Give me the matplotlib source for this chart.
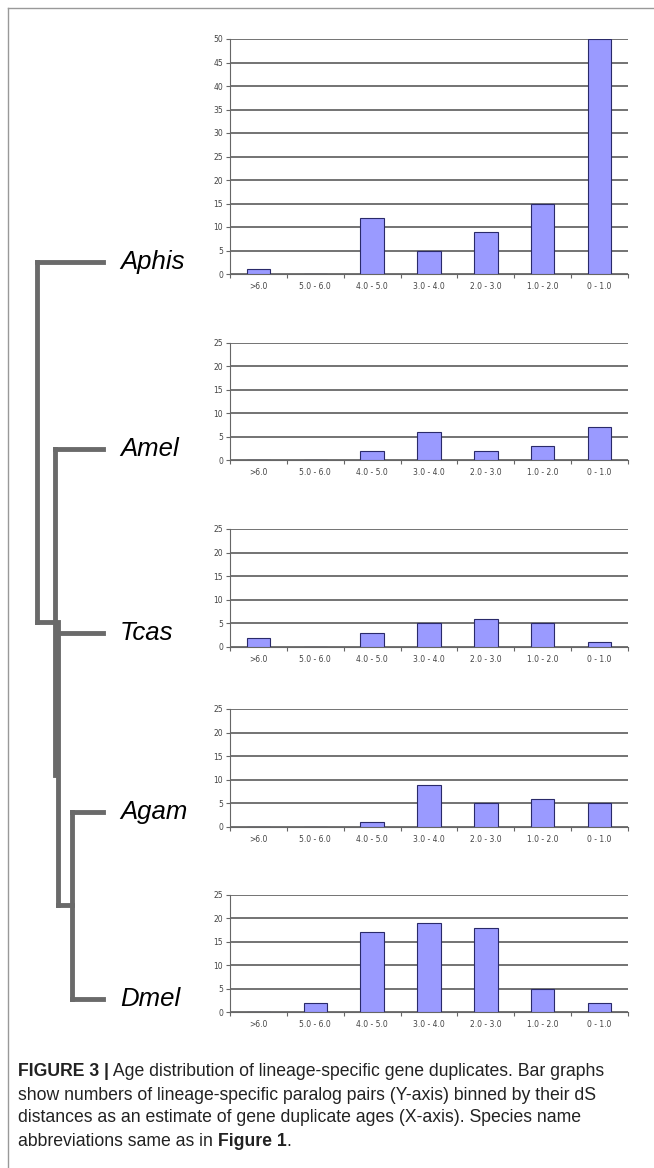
import numpy as np
import matplotlib
matplotlib.use("Agg")
from matplotlib import pyplot as plt

# Data
bins = [">6.0", "5.0 - 6.0", "4.0 - 5.0", "3.0 - 4.0", "2.0 - 3.0", "1.0 - 2.0", "0 - 1.0"]
species = ["Aphis", "Amel", "Tcas", "Agam", "Dmel"]
aphis = [1, 0, 12, 5, 9, 15, 50]
amel = [0, 0, 2, 6, 2, 3, 7]
tcas = [2, 0, 3, 5, 6, 5, 1]
agam = [0, 0, 1, 9, 5, 6, 5]
dmel = [0, 2, 17, 19, 18, 5, 2]
counts = [aphis, amel, tcas, agam, dmel]
ymax = [50, 25, 25, 25, 25]

W, H = 654, 1168
fig = plt.figure(figsize=(W / 100, H / 100), dpi=100)

# overlay in pixel coordinates for the tree, frame and caption
bg = fig.add_axes([0, 0, 1, 1])
bg.set_xlim(0, W)
bg.set_ylim(H, 0)
bg.axis("off")

# chart placement (top and bottom in pixels)
chart_top = [39, 343, 529, 709, 895]
chart_bot = [274, 460, 647, 827, 1012]
x0, x1 = 230, 628

bar_color = "#9a9aff"
edge_color = "#2a2a6a"
grid_color = "#4d4d4d"

for i, vals in enumerate(counts):
    b = 1 - chart_bot[i] / H
    h = (chart_bot[i] - chart_top[i]) / H
    ax = fig.add_axes([x0 / W, b, (x1 - x0) / W, h])
    x = np.arange(len(bins))
    ax.bar(x, vals, width=0.41, color=bar_color, edgecolor=edge_color, lw=0.8, zorder=3)
    ax.set_xlim(-0.5, len(bins) - 0.5)
    ax.set_ylim(0, ymax[i])
    ax.set_yticks(np.arange(0, ymax[i] + 1, 5))
    ax.yaxis.grid(True, color=grid_color, lw=1.1)
    ax.set_axisbelow(True)
    for s in ["top", "right"]:
        ax.spines[s].set_visible(False)
    ax.spines["left"].set_color("#666666")
    ax.spines["bottom"].set_color("#666666")
    ax.set_xticks(np.arange(-0.5, len(bins) + 0.5, 1.0))
    ax.set_xticklabels([])
    ax.set_xticks(x, minor=True)
    ax.set_xticklabels(bins, minor=True)
    ax.tick_params(axis="x", which="major", length=3, color="#666666", direction="out")
    ax.tick_params(axis="x", which="minor", length=0, pad=6, labelsize=5.5, labelcolor="#444444")
    ax.tick_params(axis="y", length=3, color="#666666", pad=2, labelsize=5.5, labelcolor="#444444")
    ax.patch.set_alpha(0)

# species tree (pixel coordinates)
leaf_y = [262, 449, 633, 812, 999]
tree_color = "#6a6a6a"
tip_x = 103
segs = [
    ((37, 37), (leaf_y[0], 622)),
    ((37, 55), (622, 622)),
    ((37, tip_x), (leaf_y[0], leaf_y[0])),
    ((55, 55), (leaf_y[1], 775)),
    ((55, tip_x), (leaf_y[1], leaf_y[1])),
    ((58, 58), (622, 905)),
    ((58, tip_x), (leaf_y[2], leaf_y[2])),
    ((58, 72), (905, 905)),
    ((72, 72), (leaf_y[3], leaf_y[4])),
    ((72, tip_x), (leaf_y[3], leaf_y[3])),
    ((72, tip_x), (leaf_y[4], leaf_y[4])),
]
for xs, ys in segs:
    bg.plot(xs, ys, color=tree_color, lw=3.5, solid_capstyle="projecting")

for name, y in zip(species, leaf_y):
    bg.text(120, y, name, fontsize=18.5, style="italic", family="Liberation Sans",
            va="center", ha="left", color="black")

# figure frame
bg.plot([8, 8], [8, H], color="#999999", lw=1)
bg.plot([8, W], [8, 8], color="#999999", lw=1)

# caption
cap_kw = dict(fontsize=12.7, family="Liberation Sans", color="#222222", va="center")
t = bg.text(18, 1072, "FIGURE 3 |", fontweight="bold", **cap_kw)
bg.annotate(" Age distribution of lineage-specific gene duplicates. Bar graphs",
            xy=(1, 0.5), xycoords=t, ha="left", **cap_kw)
bg.text(18, 1095, "show numbers of lineage-specific paralog pairs (Y-axis) binned by their dS", **cap_kw)
bg.text(18, 1118, "distances as an estimate of gene duplicate ages (X-axis). Species name", **cap_kw)
t2 = bg.text(18, 1142, "abbreviations same as in ", **cap_kw)
t3 = bg.annotate("Figure 1", xy=(1, 0.5), xycoords=t2, ha="left", fontweight="bold", **cap_kw)
bg.annotate(".", xy=(1, 0.5), xycoords=t3, ha="left", **cap_kw)

fig.savefig("out.png", dpi=100)
